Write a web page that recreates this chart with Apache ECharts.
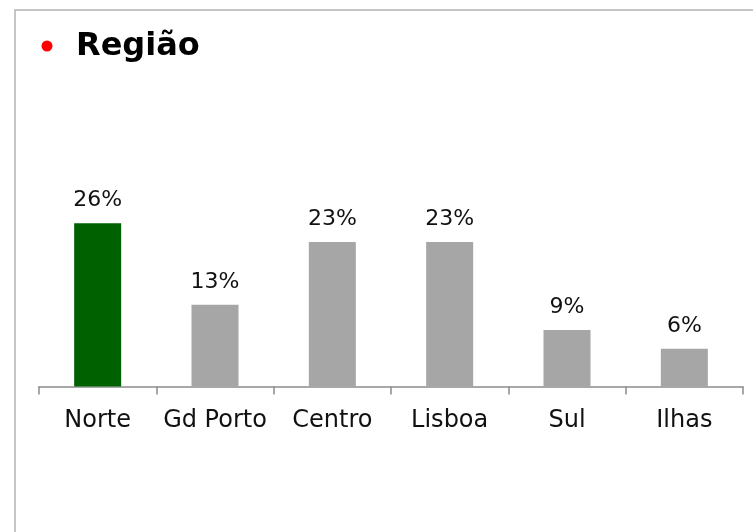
<!DOCTYPE html>
<html>
<head>
<meta charset="utf-8">
<script src="https://cdn.jsdelivr.net/npm/echarts@6/dist/echarts.min.js"></script>
<style>
  html, body { margin: 0; padding: 0; background: #fff; }
  #chart { width: 753px; height: 532px; }
</style>
</head>
<body>
<div id="chart"></div>
<script>
// Distribution by region (percent)
const categories = ['Norte', 'Gd Porto', 'Centro', 'Lisboa', 'Sul', 'Ilhas'];
const shares = [26, 13, 23, 23, 9, 6];
const highlighted = 'Norte';

const FONT = '"DejaVu Sans", sans-serif';
const GREEN = '#006100';
const GREY = '#a6a6a6';

const chart = echarts.init(document.getElementById('chart'), null, { renderer: 'canvas' });

chart.setOption({
  backgroundColor: '#ffffff',
  animation: false,
  graphic: [
    // frame: only left and top edges fall inside the canvas
    { type: 'rect', shape: { x: 15, y: 10, width: 800, height: 600 },
      style: { fill: 'none', stroke: '#b3b3b3', lineWidth: 1.5 }, silent: true },
    { type: 'circle', shape: { cx: 47, cy: 46, r: 5.5 }, style: { fill: '#ff0000' } },
    { type: 'text', left: 76, top: 31,
      style: { text: 'Região', font: 'bold 32px "DejaVu Sans", sans-serif', fill: '#000' } }
  ],
  grid: { left: 39, right: 10, top: 198, bottom: 145.5, containLabel: false },
  xAxis: {
    type: 'category',
    data: categories,
    axisLine: { lineStyle: { color: '#8c8c8c', width: 1.5 } },
    axisTick: { show: true, length: 8, lineStyle: { color: '#8c8c8c', width: 1.5 } },
    axisLabel: { color: '#111', fontFamily: FONT, fontSize: 24, margin: 22, interval: 0 }
  },
  yAxis: {
    type: 'value', min: 0, max: 30, show: false, splitLine: { show: false }
  },
  series: [{
    type: 'bar',
    barWidth: 47,
    data: shares.map((v, i) => ({
      value: v,
      itemStyle: { color: categories[i] === highlighted ? GREEN : GREY }
    })),
    label: {
      show: true, position: 'top', distance: 12,
      formatter: p => p.value + '%',
      color: '#111', fontFamily: FONT, fontSize: 22
    }
  }]
});
</script>
</body>
</html>
